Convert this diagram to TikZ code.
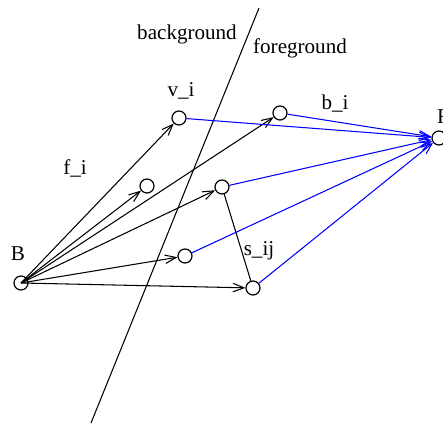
\documentclass[tikz,border=0pt]{standalone}
\usepackage{fontspec}
\setmainfont{Liberation Serif}
\usepackage{tikz}
\usetikzlibrary{arrows.meta}

\begin{document}
\begin{tikzpicture}[
                x=0.02cm, y=-0.02cm,
                font=\fontsize{12}{14}\selectfont,
                pt/.style={draw, circle, inner sep=0pt, minimum size=0.28cm, line width=0.7pt},
                lbl/.style={inner sep=0pt},
                edge/.style={-{Straight Barb[length=2.2mm, width=1.7mm]}, line width=0.6pt},
                fedge/.style={edge, blue}
            ]
            \useasboundingbox (0,0) rectangle (443,425);
            % nodes
            \node[pt] (B) at (21,283) {};
            \node[pt] (vi) at (179,118) {};
            \node[pt] (va) at (280,113) {};
            \node[pt] (vb) at (147,186) {};
            \node[pt] (vc) at (222,187) {};
            \node[pt] (vd) at (185,256) {};
            \node[pt] (ve) at (253,288) {};
            \node[pt] (F) at (439,138) {};
            % labels
            \node[lbl] (lB) at (18,254) {B};
            \node[lbl] (lvi) at (181,91) {v\_i};
            \node[lbl] (lF) at (443,117) {F};
            \node[lbl] (lfi) at (75,168) {f\_i};
            \node[lbl] (lbi) at (335,104) {b\_i};
            \node[lbl] (lsij) at (259,251) {s\_ij};
            \node[lbl] (lbg) at (187,34) {background};
            \node[lbl] (lfg) at (300,48) {foreground};
            % separator
            \coordinate (top) at (259,8);
            \coordinate (bot) at (91,423);
            \draw[line width=0.6pt] (top) -- (bot);
            % black arrows from B
            \draw[edge] (B.center) -- (vi);
            \draw[edge] (B.center) -- (va);
            \draw[edge] (B.center) -- (vb);
            \draw[edge] (B.center) -- (vc);
            \draw[edge] (B.center) -- (vd);
            \draw[edge] (B.center) -- (ve);
            \draw[line width=0.6pt] (vc) -- (ve);
            % blue arrows to F
            \draw[fedge] (vi) -- (F);
            \draw[fedge] (va) -- (F);
            \draw[fedge] (vc) -- (F);
            \draw[fedge] (vd) -- (F);
            \draw[fedge] (ve) -- (F);
        \end{tikzpicture}
\end{document}
